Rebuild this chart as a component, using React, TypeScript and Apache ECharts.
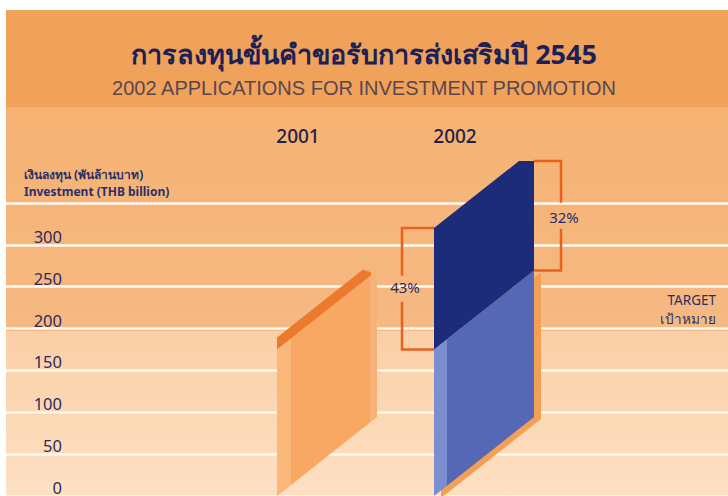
import React, { useEffect, useRef } from 'react';
import * as echarts from 'echarts';

// ---- data ----
const years = ['2001', '2002'];
const baseInvestment = [175, 175]; // THB billion (lower segment of each bar)
const addedInvestment = [0, 145]; // extra amount on top (2002 navy part)
const growthLabels = ['43%', '32%']; // vs 2001, vs target
const targetValue = 200;
const targetLabel = 'TARGET\nเป้าหมาย';
const titleThai = 'การลงทุนขั้นคำขอรับการส่งเสริมปี 2545';
const titleEn = '2002 APPLICATIONS FOR INVESTMENT PROMOTION';
const axisTitle = 'เงินลงทุน (พันล้านบาท)\nInvestment (THB billion)';
const yMin = 0;
const yMax = 350;
const yStep = 50;

const NAVY_TEXT = '#262c68';
const FONT = '"Noto Sans", "DejaVu Sans", "Liberation Sans", sans-serif';
const SLOPE = 0.79;

export default function App() {
  const ref = useRef<HTMLDivElement>(null);

  useEffect(() => {
    if (!ref.current) return;
    const chart = echarts.init(ref.current, null, { renderer: 'svg' });

    const seriesData = years.map((_, i) => [i, baseInvestment[i], addedInvestment[i]]);

    const renderItem = (params: any, api: any) => {
      const i = api.value(0);
      const base = api.value(1);
      const add = api.value(2);
      const p0 = api.coord([i, 0]);
      const cx = p0[0];
      const y0 = p0[1];
      const yb = api.coord([i, base])[1];
      const yt = api.coord([i, base + add])[1];
      const W = 100;
      const L = cx - 21;
      const R = L + W;
      const at = (x: number, yLeft: number) => [x, yLeft - SLOPE * (x - L)];
      const seg = (a: number, b: number, yLo: number, yHi: number) => [at(a, yLo), at(b, yLo), at(b, yHi), at(a, yHi)];
      const poly = (points: number[][], fill: string) => ({ type: 'polygon', shape: { points }, style: { fill } });
      const children: any[] = [];
      if (i === 0) {
        children.push(poly(seg(L, L + 14, y0, yb), '#fbb878'));
        children.push(poly(seg(L + 14, R - 7, y0, yb), '#f8a862'));
        children.push(poly(seg(R - 7, R, y0, yb), '#f7b27a'));
        const e = at(R - 14, yb - 12);
        const f = at(R - 6, yb - 3);
        children.push(poly([[L, yb], [L, yb - 12], e, f, at(R - 6, yb)], '#ec7a2e'));
      } else {
        const shadow = seg(L, R, y0, yb).map((p) => [p[0] + 7, p[1] + 2]);
        children.push(poly(shadow, '#f3a057'));
        children.push(poly(seg(L + 13, R, y0, yb), '#5568b5'));
        children.push(poly(seg(L, L + 13, y0, yb), '#7a8ed0'));
        const yTopR = yt - SLOPE * (W - 15);
        children.push(poly([[L, yb], at(R, yb), [R, yTopR], [R - 15, yTopR], [L, yt]], '#1c2b7a'));
        // brackets
        const bc = '#e8621e';
        const lx = L - 32;
        const midL = (yt + yb) / 2;
        const lineStyle = { stroke: bc, lineWidth: 2.5, fill: null };
        children.push({ type: 'polyline', shape: { points: [[L, yt], [lx, yt], [lx, midL - 13]] }, style: lineStyle });
        children.push({ type: 'polyline', shape: { points: [[lx, midL + 13], [lx, yb], [L, yb]] }, style: lineStyle });
        children.push({
          type: 'text',
          style: { text: growthLabels[0], x: lx + 3, y: midL - 2, align: 'center', verticalAlign: 'middle', fill: NAVY_TEXT, fontSize: 15, fontFamily: FONT },
        });
        const rx = R + 27;
        const rTop = yTopR;
        const rBot = yb - SLOPE * W;
        const midR = (rTop + rBot) / 2;
        children.push({ type: 'polyline', shape: { points: [[R, rTop], [rx, rTop], [rx, midR - 13]] }, style: lineStyle });
        children.push({ type: 'polyline', shape: { points: [[rx, midR + 13], [rx, rBot], [R, rBot]] }, style: lineStyle });
        children.push({
          type: 'text',
          style: { text: growthLabels[1], x: rx + 3, y: midR + 1, align: 'center', verticalAlign: 'middle', fill: NAVY_TEXT, fontSize: 15, fontFamily: FONT },
        });
      }
      return { type: 'group', children };
    };

    const option: any = {
      animation: false,
      textStyle: { fontFamily: FONT },
      title: [
        {
          text: titleThai,
          left: 'center',
          top: 35,
          textStyle: { fontSize: 27, fontWeight: 'bold', color: '#1b2058', fontFamily: FONT },
        },
        {
          text: titleEn,
          left: 'center',
          top: 73,
          textStyle: { fontSize: 20, fontWeight: 'normal', color: '#594650', fontFamily: '"Liberation Sans", sans-serif' },
        },
      ],
      graphic: [
        { type: 'rect', z: -100, silent: true, shape: { x: 6, y: 10, width: 722, height: 97 }, style: { fill: '#f1a25a' } },
        {
          type: 'rect',
          z: -100,
          silent: true,
          shape: { x: 6, y: 107, width: 722, height: 389 },
          style: {
            fill: new echarts.graphic.LinearGradient(0, 0, 0, 1, [
              { offset: 0, color: '#f5b272' },
              { offset: 0.576, color: '#f6b983' },
              { offset: 0.577, color: '#fbcfa6' },
              { offset: 1, color: '#fde0c3' },
            ]),
          },
        },
      ],
      grid: [
        { left: 6, right: 0, top: 203, height: 299 },
        { left: 219.5, width: 314, top: 203, height: 299 },
      ],
      xAxis: [
        { type: 'value', gridIndex: 0, show: false, min: 0, max: 1 },
        {
          type: 'category',
          gridIndex: 1,
          data: years,
          position: 'top',
          axisLine: { show: false },
          axisTick: { show: false },
          axisLabel: { margin: 58, fontSize: 19, fontWeight: 500, color: '#1d1f4a', fontFamily: FONT },
        },
      ],
      yAxis: [
        {
          type: 'value',
          gridIndex: 0,
          min: yMin,
          max: yMax,
          interval: yStep,
          axisLine: { show: false },
          axisTick: { show: false },
          splitLine: { show: true, lineStyle: { color: '#fff9f1', width: 2.5 } },
          axisLabel: {
            inside: true,
            align: 'right',
            verticalAlign: 'bottom',
            margin: 56,
            fontSize: 16.5,
            color: '#2a2c5c',
            fontFamily: FONT,
            formatter: (v: number) => (v === yMax ? '' : String(v)),
          },
          name: axisTitle,
          nameLocation: 'end',
          nameGap: 3,
          nameTextStyle: {
            align: 'left',
            verticalAlign: 'bottom',
            padding: [0, 0, 0, 18],
            fontSize: 12,
            lineHeight: 17,
            fontWeight: 'bold',
            color: '#2a2f6a',
            fontFamily: FONT,
          },
        },
        {
          type: 'value',
          gridIndex: 0,
          position: 'right',
          min: yMin,
          max: yMax,
          interval: yStep,
          axisLine: { show: false },
          axisTick: { show: false },
          splitLine: { show: false },
          axisLabel: {
            inside: true,
            align: 'right',
            verticalAlign: 'bottom',
            margin: 12,
            fontSize: 13.5,
            lineHeight: 19,
            color: '#2a2f6a',
            fontFamily: FONT,
            formatter: (v: number) => (v === targetValue ? targetLabel : ''),
          },
        },
        { type: 'value', gridIndex: 1, min: yMin, max: yMax, interval: yStep, show: false },
      ],
      series: [
        {
          type: 'custom',
          xAxisIndex: 1,
          yAxisIndex: 2,
          renderItem,
          data: seriesData,
          silent: true,
        },
      ],
    };

    chart.setOption(option);
    return () => chart.dispose();
  }, []);

  return (
    <div
      ref={ref}
      style={{ position: 'absolute', left: 0, top: 0, width: 728, height: 496, background: '#ffffff' }}
    />
  );
}
